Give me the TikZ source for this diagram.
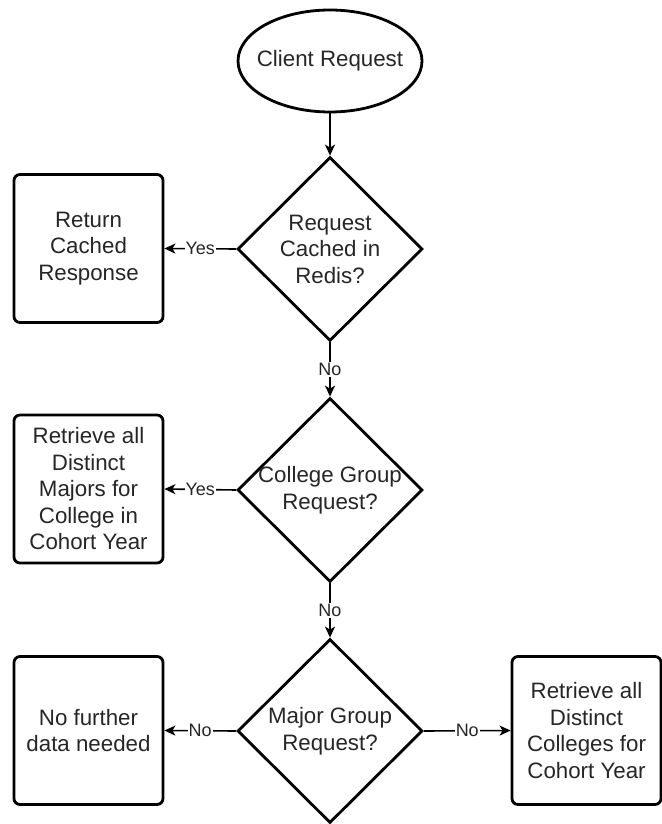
\documentclass[tikz,border=0pt]{standalone}
\usepackage{fontspec}
\setmainfont{Liberation Sans}
\usetikzlibrary{shapes.geometric,arrows.meta}
\begin{document}
\begin{tikzpicture}[x=1pt,y=-1pt,
  shapeline/.style={draw=black, line width=2.8pt, inner sep=0pt},
  txt/.style={align=center, text=black!85, font=\fontsize{22.3}{26.5}\selectfont, inner sep=0pt},
  startnode/.style={ellipse, shapeline, minimum width=184pt, minimum height=102pt},
  decision/.style={diamond, shapeline, minimum width=185pt, minimum height=184pt},
  process/.style={rectangle, shapeline, rounded corners=6pt, minimum width=149pt, minimum height=148pt, txt},
  edge/.style={draw=black, line width=1.6pt, -{Stealth[length=11pt,width=10pt,inset=3pt]}},
  elabel/.style={fill=white, inner sep=1pt, text=black!85, font=\fontsize{18}{20}\selectfont}
]
\useasboundingbox[fill=white] (0,0) rectangle (661,824);

% start and decisions (text placed on top so it can overflow the outline)
\node[startnode, label={[txt]center:Client Request}] (start) at (330,61) {};
\node[decision, label={[txt]center:{Request\\Cached in\\Redis?}}] (d1) at (330,249) {};
\node[decision, label={[txt]center:{College Group\\Request?}}] (d2) at (330,490) {};
\node[decision, label={[txt]center:{Major Group\\Request?}}] (d3) at (330,731) {};

% process boxes
\node[process] (b1) at (88.5,248.5) {Return\\Cached\\Response};
\node[process] (b2) at (88.5,489) {Retrieve all\\Distinct\\Majors for\\College in\\Cohort Year};
\node[process] (b3) at (88.5,730.5) {No further\\data needed};
\node[process] (b4) at (586.5,730.5) {Retrieve all\\Distinct\\Colleges for\\Cohort Year};

% connectors
\draw[edge] (start.south) -- (d1.north);
\draw[edge] (d1.west) -- node[elabel]{Yes} (b1.east);
\draw[edge] (d1.south) -- node[elabel]{No} (d2.north);
\draw[edge] (d2.west) -- node[elabel]{Yes} (b2.east);
\draw[edge] (d2.south) -- node[elabel]{No} (d3.north);
\draw[edge] (d3.west) -- node[elabel]{No} (b3.east);
\draw[edge] (d3.east) -- node[elabel]{No} (b4.west);
\end{tikzpicture}
\end{document}
